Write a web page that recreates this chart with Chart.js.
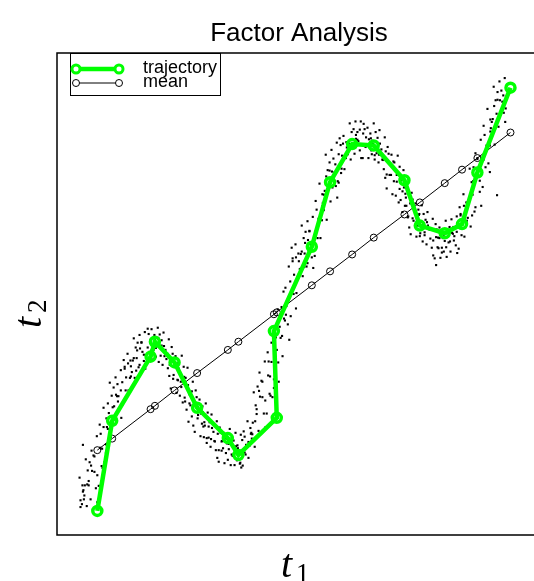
<!DOCTYPE html>
<html>
<head>
<meta charset="utf-8">
<script src="https://cdn.jsdelivr.net/npm/chart.js@4"></script>
<style>
  html, body { margin: 0; padding: 0; background: #fff; }
  canvas { display: block; }
</style>
</head>
<body>
<canvas id="chart" width="534" height="581"></canvas>
<script>
// Title and series names
const titleText = 'Factor Analysis';
const seriesLabels = ['trajectory', 'mean'];

// Trajectory (green) - t1 / t2
const trajectoryT1 = [0.84, 1.15, 1.95, 2.04, 2.45, 2.92, 3.56, 3.78, 4.58, 4.52,
                      5.31, 5.69, 6.15, 6.60, 7.24, 7.56, 8.08, 8.44, 8.76, 9.45];
const trajectoryT2 = [0.50, 2.37, 3.70, 4.01, 3.58, 2.64, 2.01, 1.66, 2.43, 4.23,
                      5.98, 7.32, 8.11, 8.08, 7.36, 6.42, 6.26, 6.45, 7.52, 9.28];

// Mean line (black, open circles) at the same t1 positions
const meanT2 = [1.76, 2.00, 2.61, 2.68, 3.00, 3.36, 3.84, 4.01, 4.62, 4.58,
                5.18, 5.47, 5.82, 6.17, 6.65, 6.90, 7.30, 7.58, 7.82, 8.35];

// Observed samples (black dots) [t1, t2], outer part of the cloud
const sampleDots = [
  [0.47,1.19],[0.52,0.64],[0.54,0.90],[0.49,0.58],[0.53,1.03],
  [0.58,1.03],[0.64,1.34],[0.56,0.74],[0.62,0.60],[0.60,1.57],
  [0.66,1.03],[0.72,1.75],[0.70,0.74],[0.73,1.33],[0.68,1.51],
  [0.81,0.97],[0.76,1.65],[0.83,2.05],[0.78,1.31],[0.84,0.68],
  [0.93,1.43],[0.87,1.02],[0.91,2.10],[0.94,1.79],[0.89,2.29],
  [0.97,2.64],[1.02,1.88],[1.04,2.24],[0.99,1.51],[1.03,2.42],
  [1.08,2.53],[1.14,2.89],[1.06,2.20],[1.12,2.03],[1.10,3.16],
  [1.16,2.65],[1.22,3.27],[1.20,2.40],[1.23,2.91],[1.18,3.06],
  [1.31,2.64],[1.26,3.13],[1.33,3.42],[1.28,2.88],[1.34,2.43],
  [1.43,3.00],[1.37,2.71],[1.41,3.49],[1.44,3.27],[1.39,3.63],
  [1.47,3.76],[1.52,3.26],[1.54,3.50],[1.49,3.00],[1.53,3.62],
  [1.58,3.62],[1.64,3.89],[1.56,3.38],[1.62,3.26],[1.60,4.08],
  [1.66,3.67],[1.72,4.15],[1.70,3.48],[1.73,3.87],[1.68,3.99],
  [1.81,3.61],[1.76,3.99],[1.83,4.21],[1.78,3.80],[1.84,3.45],
  [1.93,3.80],[1.87,3.57],[1.91,4.17],[1.94,4.00],[1.89,4.28],
  [1.97,4.27],[2.02,3.85],[2.04,4.05],[1.99,3.64],[2.03,4.15],
  [2.08,3.92],[2.14,4.16],[2.06,3.70],[2.12,3.59],[2.10,4.30],
  [2.16,3.72],[2.22,4.20],[2.20,3.53],[2.23,3.92],[2.18,4.04],
  [2.31,3.46],[2.26,3.84],[2.33,4.06],[2.28,3.65],[2.34,3.30],
  [2.43,3.32],[2.37,3.04],[2.41,3.76],[2.44,3.56],[2.39,3.90],
  [2.47,3.71],[2.52,3.21],[2.54,3.45],[2.49,2.95],[2.53,3.57],
  [2.58,3.18],[2.64,3.49],[2.56,2.89],[2.62,2.75],[2.60,3.72],
  [2.66,2.85],[2.72,3.47],[2.70,2.60],[2.73,3.11],[2.68,3.26],
  [2.81,2.46],[2.76,2.92],[2.83,3.18],[2.78,2.69],[2.84,2.27],
  [2.93,2.42],[2.87,2.14],[2.91,2.86],[2.94,2.66],[2.89,3.00],
  [2.97,2.81],[3.02,2.31],[3.04,2.55],[2.99,2.05],[3.03,2.67],
  [3.08,2.27],[3.14,2.54],[3.06,2.03],[3.12,1.91],[3.10,2.73],
  [3.16,2.02],[3.22,2.50],[3.20,1.83],[3.23,2.22],[3.18,2.34],
  [3.31,1.76],[3.26,2.14],[3.33,2.36],[3.28,1.95],[3.34,1.60],
  [3.43,1.75],[3.37,1.52],[3.41,2.12],[3.44,1.95],[3.39,2.23],
  [3.47,2.12],[3.52,1.70],[3.54,1.90],[3.49,1.49],[3.53,2.00],
  [3.58,1.78],[3.64,2.02],[3.56,1.56],[3.62,1.45],[3.60,2.20],
  [3.66,1.64],[3.72,2.12],[3.70,1.45],[3.73,1.84],[3.68,1.96],
  [3.81,1.48],[3.76,1.86],[3.83,2.08],[3.78,1.67],[3.84,1.40],
  [3.93,1.67],[3.87,1.44],[3.91,2.04],[3.94,1.87],[3.89,2.15],
  [3.97,2.36],[4.02,1.86],[4.04,2.10],[3.99,1.60],[4.03,2.22],
  [4.08,2.33],[4.14,2.69],[4.06,2.00],[4.12,1.83],[4.10,2.96],
  [4.16,2.51],[4.22,3.37],[4.20,2.16],[4.23,2.87],[4.18,3.08],
  [4.31,2.52],[4.26,3.20],[4.33,3.60],[4.28,2.86],[4.34,2.23],
  [4.43,2.93],[4.37,2.52],[4.41,3.60],[4.44,3.29],[4.39,3.79],
  [4.47,3.99],[4.52,3.23],[4.54,3.59],[4.49,2.86],[4.53,3.77],
  [4.58,3.84],[4.64,4.32],[4.56,3.40],[4.62,3.18],[4.60,4.68],
  [4.66,4.09],[4.72,5.05],[4.70,3.71],[4.73,4.49],[4.68,4.73],
  [4.81,4.37],[4.76,5.13],[4.83,5.57],[4.78,4.75],[4.84,4.05],
  [4.93,5.00],[4.87,4.54],[4.91,5.74],[4.94,5.40],[4.89,5.96],
  [4.97,6.03],[5.02,5.36],[5.04,5.68],[4.99,5.02],[5.03,5.84],
  [5.08,5.83],[5.14,6.16],[5.06,5.52],[5.12,5.37],[5.10,6.42],
  [5.16,5.84],[5.22,6.51],[5.20,5.57],[5.23,6.12],[5.18,6.29],
  [5.31,5.76],[5.26,6.30],[5.33,6.60],[5.28,6.03],[5.34,5.54],
  [5.43,6.16],[5.37,5.79],[5.41,6.75],[5.44,6.48],[5.39,6.93],
  [5.47,7.29],[5.52,6.53],[5.54,6.89],[5.49,6.16],[5.53,7.07],
  [5.58,7.14],[5.64,7.57],[5.56,6.74],[5.62,6.54],[5.60,7.89],
  [5.66,7.22],[5.72,7.99],[5.70,6.92],[5.73,7.54],[5.68,7.73],
  [5.81,7.24],[5.76,7.81],[5.83,8.14],[5.78,7.52],[5.84,7.00],
  [5.93,7.60],[5.87,7.31],[5.91,8.09],[5.94,7.87],[5.89,8.23],
  [5.97,8.28],[6.02,7.82],[6.04,8.04],[5.99,7.59],[6.03,8.15],
  [6.08,8.12],[6.14,8.36],[6.06,7.90],[6.12,7.79],[6.10,8.54],
  [6.16,8.10],[6.22,8.58],[6.20,7.91],[6.23,8.30],[6.18,8.42],
  [6.31,7.98],[6.26,8.36],[6.33,8.58],[6.28,8.17],[6.34,7.82],
  [6.43,8.05],[6.37,7.82],[6.41,8.42],[6.44,8.25],[6.39,8.53],
  [6.47,8.45],[6.52,8.03],[6.54,8.23],[6.49,7.82],[6.53,8.33],
  [6.58,8.12],[6.64,8.36],[6.56,7.90],[6.62,7.79],[6.60,8.54],
  [6.66,7.92],[6.72,8.40],[6.70,7.73],[6.73,8.12],[6.68,8.24],
  [6.81,7.59],[6.76,8.00],[6.83,8.25],[6.78,7.79],[6.84,7.41],
  [6.93,7.47],[6.87,7.19],[6.91,7.91],[6.94,7.71],[6.89,8.05],
  [6.97,7.89],[7.02,7.34],[7.04,7.60],[6.99,7.07],[7.03,7.73],
  [7.08,7.33],[7.14,7.64],[7.06,7.04],[7.12,6.90],[7.10,7.87],
  [7.16,6.95],[7.22,7.57],[7.20,6.70],[7.23,7.21],[7.18,7.36],
  [7.31,6.59],[7.26,7.08],[7.33,7.37],[7.28,6.83],[7.34,6.38],
  [7.43,6.52],[7.37,6.24],[7.41,6.96],[7.44,6.76],[7.39,7.10],
  [7.47,6.88],[7.52,6.42],[7.54,6.64],[7.49,6.19],[7.53,6.75],
  [7.58,6.42],[7.64,6.66],[7.56,6.20],[7.62,6.09],[7.60,6.84],
  [7.66,6.22],[7.72,6.70],[7.70,6.03],[7.73,6.42],[7.68,6.54],
  [7.81,5.96],[7.76,6.34],[7.83,6.56],[7.78,6.15],[7.84,5.80],
  [7.93,5.97],[7.87,5.74],[7.91,6.34],[7.94,6.17],[7.89,6.45],
  [7.97,6.38],[8.02,5.96],[8.04,6.16],[7.99,5.75],[8.03,6.26],
  [8.08,6.10],[8.14,6.34],[8.06,5.88],[8.12,5.77],[8.10,6.52],
  [8.16,6.07],[8.22,6.55],[8.20,5.88],[8.23,6.27],[8.18,6.39],
  [8.31,6.01],[8.26,6.39],[8.33,6.61],[8.28,6.20],[8.34,5.85],
  [8.43,6.22],[8.37,5.94],[8.41,6.66],[8.44,6.46],[8.39,6.80],
  [8.47,7.07],[8.52,6.48],[8.54,6.76],[8.49,6.19],[8.53,6.90],
  [8.58,6.93],[8.64,7.32],[8.56,6.58],[8.62,6.40],[8.60,7.60],
  [8.66,7.06],[8.72,7.92],[8.70,6.71],[8.73,7.42],[8.68,7.63],
  [8.81,7.12],[8.76,7.80],[8.83,8.20],[8.78,7.46],[8.84,6.83],
  [8.93,7.63],[8.87,7.22],[8.91,8.30],[8.94,7.99],[8.89,8.49],
  [8.97,8.84],[9.02,8.08],[9.04,8.44],[8.99,7.71],[9.03,8.62],
  [9.08,8.63],[9.14,9.02],[9.06,8.28],[9.12,8.10],[9.10,9.30],
  [9.16,8.74],[9.22,9.41],[9.20,8.47],[9.23,9.02],[9.18,9.19],
  [9.31,8.76],[9.26,9.22],[9.33,9.48],[9.28,8.99],[9.34,8.57],
  // stragglers
  [0.54,1.87],[9.17,7.05],[9.02,7.53],[4.98,4.70],[2.74,2.35],[7.90,5.60]
];

// Observed samples, dense core of the cloud
const coreDots = [
  [0.55,0.93],[0.49,0.72],[0.57,0.82],[0.63,1.05],[0.71,1.44],[0.66,1.12],
  [0.84,1.24],[0.78,1.63],[0.90,1.81],[0.95,1.39],[1.02,1.70],[0.97,2.24],
  [1.06,2.73],[1.11,2.33],[1.25,2.88],[1.19,2.67],[1.27,2.77],[1.33,3.00],
  [1.41,3.45],[1.36,3.17],[1.54,3.29],[1.48,3.56],[1.60,3.67],[1.65,3.41],
  [1.72,3.53],[1.67,3.83],[1.76,4.00],[1.81,3.74],[1.95,4.05],[1.89,3.89],
  [1.97,3.83],[2.03,4.01],[2.11,4.09],[2.06,3.88],[2.24,3.71],[2.18,3.93],
  [2.30,3.76],[2.35,3.53],[2.42,3.24],[2.37,3.60],[2.46,3.53],[2.51,3.22],
  [2.65,3.28],[2.59,3.07],[2.67,2.77],[2.73,3.00],[2.81,2.98],[2.76,2.73],
  [2.94,2.49],[2.88,2.76],[3.00,2.52],[3.05,2.25],[3.12,2.01],[3.07,2.34],
  [3.16,2.25],[3.21,1.99],[3.35,2.10],[3.29,1.94],[3.37,1.76],[3.43,1.94],
  [3.51,2.01],[3.46,1.80],[3.64,1.67],[3.58,1.89],[3.70,1.78],[3.75,1.55],
  [3.82,1.50],[3.77,1.80],[3.86,1.97],[3.91,1.71],[4.05,2.12],[3.99,1.93],
  [4.07,2.09],[4.13,2.36],[4.21,2.99],[4.16,2.61],[4.34,2.79],[4.28,3.18],
  [4.40,3.31],[4.45,2.89],[4.52,3.05],[4.47,3.59],[4.56,4.10],[4.61,3.58],
  [4.75,4.45],[4.69,4.13],[4.77,4.57],[4.83,4.93],[4.91,5.68],[4.86,5.26],
  [5.04,5.41],[4.98,5.76],[5.10,5.88],[5.15,5.56],[5.22,5.64],[5.17,6.06],
  [5.26,6.31],[5.31,5.95],[5.45,6.56],[5.39,6.30],[5.47,6.50],[5.53,6.82],
  [5.61,7.44],[5.56,7.06],[5.74,7.21],[5.68,7.56],[5.80,7.69],[5.85,7.34],
  [5.92,7.51],[5.87,7.90],[5.96,8.12],[6.01,7.83],[6.15,8.20],[6.09,8.04],
  [6.17,8.04],[6.23,8.22],[6.31,8.41],[6.26,8.20],[6.44,8.11],[6.38,8.33],
  [6.50,8.21],[6.55,7.98],[6.62,7.88],[6.57,8.18],[6.66,8.15],[6.71,7.89],
  [6.85,7.96],[6.79,7.78],[6.87,7.48],[6.93,7.70],[7.01,7.75],[6.96,7.47],
  [7.14,7.18],[7.08,7.47],[7.20,7.13],[7.25,6.83],[7.32,6.61],[7.27,7.00],
  [7.36,6.88],[7.41,6.57],[7.55,6.66],[7.49,6.48],[7.57,6.26],[7.63,6.44],
  [7.71,6.49],[7.66,6.28],[7.84,6.11],[7.78,6.33],[7.90,6.18],[7.95,5.95],
  [8.02,5.86],[7.97,6.16],[8.06,6.23],[8.11,5.97],[8.25,6.25],[8.19,6.09],
  [8.27,6.11],[8.33,6.29],[8.41,6.63],[8.36,6.38],[8.54,6.52],[8.48,6.83],
  [8.60,7.00],[8.65,6.63],[8.72,6.80],[8.67,7.34],[8.76,7.82],[8.81,7.35],
  [8.95,8.08],[8.89,7.79],[8.97,8.05],[9.03,8.37],[9.11,8.90],[9.06,8.57],
  [9.24,8.72],[9.18,9.03],[9.30,9.12],[9.35,8.85]
];

const GREEN = '#00ff00';

// Frame, legend, title and math-style axis labels drawn on top
const decorPlugin = {
  id: 'decor',
  afterDraw(chart) {
    const { ctx, chartArea: a } = chart;
    ctx.save();

    // plot frame (right edge runs off the canvas)
    ctx.strokeStyle = '#000';
    ctx.lineWidth = 1.5;
    ctx.beginPath();
    ctx.moveTo(a.right + 4, a.top);
    ctx.lineTo(a.left, a.top);
    ctx.lineTo(a.left, a.bottom);
    ctx.lineTo(a.right + 4, a.bottom);
    ctx.stroke();

    // title
    ctx.fillStyle = '#000';
    ctx.font = '26px "Liberation Sans", Arial, sans-serif';
    ctx.textAlign = 'center';
    ctx.textBaseline = 'alphabetic';
    ctx.fillText(titleText, 299, 41);

    // legend box
    const lx = a.left + 13, ly = a.top, lw = 150, lh = 42;
    ctx.fillStyle = '#fff';
    ctx.fillRect(lx, ly, lw, lh);
    ctx.strokeStyle = '#000';
    ctx.lineWidth = 1;
    ctx.strokeRect(lx + 0.5, ly + 0.5, lw, lh);

    const rows = [
      { y: ly + 16, color: GREEN, width: 4.5, r: 4, bw: 3 },
      { y: ly + 30, color: '#000', width: 1, r: 3.5, bw: 1 }
    ];
    rows.forEach((row, i) => {
      const x0 = lx + 6, x1 = lx + 49;
      ctx.strokeStyle = row.color;
      ctx.lineWidth = row.width;
      ctx.beginPath();
      ctx.moveTo(x0, row.y);
      ctx.lineTo(x1, row.y);
      ctx.stroke();
      ctx.lineWidth = row.bw;
      [x0, x1].forEach(cx => {
        ctx.beginPath();
        ctx.arc(cx, row.y, row.r, 0, Math.PI * 2);
        ctx.fillStyle = '#fff';
        ctx.fill();
        ctx.stroke();
      });
      ctx.fillStyle = '#000';
      ctx.font = '18px "Liberation Sans", Arial, sans-serif';
      ctx.textAlign = 'left';
      ctx.textBaseline = 'middle';
      ctx.fillText(seriesLabels[i], lx + 73, row.y - 1);
    });

    // x label: t_1
    ctx.textAlign = 'left';
    ctx.textBaseline = 'alphabetic';
    ctx.fillStyle = '#000';
    ctx.font = 'italic 40px "Liberation Serif", serif';
    ctx.fillText('t', 281, 577);
    ctx.font = '27px "Liberation Serif", serif';
    ctx.fillText('1', 296, 582);

    // y label: t_2 (rotated)
    ctx.translate(41, 328);
    ctx.rotate(-Math.PI / 2);
    ctx.font = 'italic 40px "Liberation Serif", serif';
    ctx.fillText('t', 0, 0);
    ctx.font = '27px "Liberation Serif", serif';
    ctx.fillText('2', 15, 5);

    ctx.restore();
  }
};

const toPoints = (xs, ys) => xs.map((x, i) => ({ x, y: ys[i] }));

new Chart(document.getElementById('chart'), {
  type: 'scatter',
  data: {
    datasets: [
      {
        label: seriesLabels[0],
        data: toPoints(trajectoryT1, trajectoryT2),
        showLine: true,
        borderColor: GREEN,
        borderWidth: 4.5,
        pointRadius: 4.5,
        pointBorderWidth: 3.5,
        pointBorderColor: GREEN,
        pointBackgroundColor: 'rgba(0,0,0,0)',
        order: 0
      },
      {
        label: seriesLabels[1],
        data: toPoints(trajectoryT1, meanT2),
        showLine: true,
        borderColor: '#000',
        borderWidth: 1,
        pointRadius: 3.5,
        pointBorderWidth: 1,
        pointBorderColor: '#000',
        pointBackgroundColor: 'rgba(0,0,0,0)',
        order: 1
      },
      {
        label: 'samples',
        data: sampleDots.concat(coreDots).map(([x, y]) => ({ x, y })),
        pointStyle: 'rect',
        pointRadius: 1.5,
        pointBackgroundColor: '#000',
        pointBorderWidth: 0,
        order: 2
      }
    ]
  },
  options: {
    responsive: false,
    animation: false,
    events: [],
    layout: { autoPadding: false, padding: { left: 57, top: 53, right: 0, bottom: 46 } },
    plugins: {
      legend: { display: false },
      title: { display: false },
      tooltip: { enabled: false }
    },
    scales: {
      x: { type: 'linear', min: 0, max: 9.94, display: false },
      y: { type: 'linear', min: 0, max: 10, display: false }
    }
  },
  plugins: [decorPlugin]
});
</script>
</body>
</html>
